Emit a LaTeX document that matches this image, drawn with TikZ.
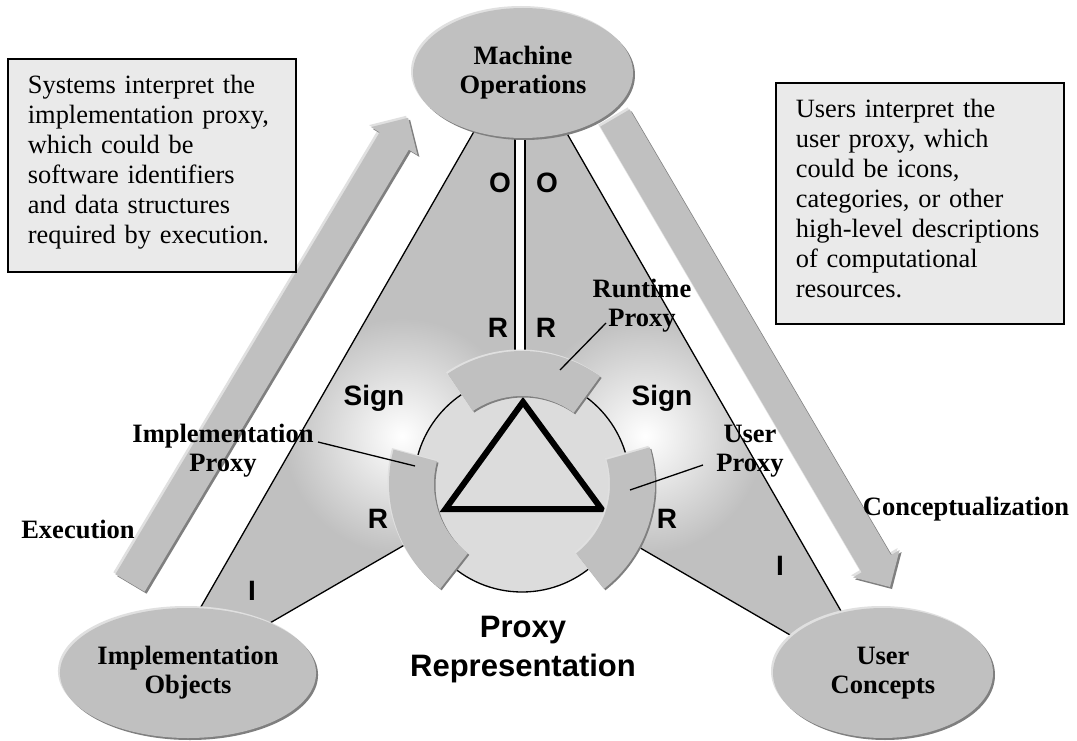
\documentclass[tikz,border=0pt]{standalone}
\usepackage{fontspec}
\setmainfont{Liberation Serif}
\newfontfamily\arialfont{Liberation Sans}
\usetikzlibrary{shapes.geometric,shadows}

\definecolor{facegrey}{HTML}{C0C0C0}
\definecolor{rimdark}{HTML}{7F7F7F}
\definecolor{rimlight}{HTML}{E0E0E0}
\definecolor{discgrey}{HTML}{DCDCDC}
\definecolor{notegrey}{HTML}{EAEAEA}

\tikzset{
  bevel/.style={
    general shadow={fill=rimlight, shadow xshift=-2pt, shadow yshift=2pt},
    general shadow={fill=rimdark, shadow xshift=2pt, shadow yshift=-2pt},
    fill=facegrey},
  thinbevel/.style={
    general shadow={fill=rimlight, shadow xshift=-1.5pt, shadow yshift=1.5pt},
    general shadow={fill=rimdark, shadow xshift=1.5pt, shadow yshift=-1.5pt},
    fill=facegrey},
  halo/.style={inner color=white, outer color=facegrey},
  blob/.style={ellipse, bevel, minimum width=220pt, minimum height=130pt,
    inner sep=0pt, align=center,
    font=\fontsize{26.5}{29}\selectfont\bfseries},
  edgeline/.style={line width=1.3pt, black},
  pointer/.style={line width=1.3pt, black},
  lbl/.style={inner sep=0pt, align=center,
    font=\fontsize{26.5}{29}\selectfont\bfseries},
  sym/.style={inner sep=0pt, anchor=base,
    font=\arialfont\bfseries\fontsize{28}{30}\selectfont},
  note/.style={draw, line width=1.8pt, fill=notegrey, anchor=north west,
    text width=248pt, inner xsep=20pt, inner ysep=16pt, align=left,
    font=\fontsize{26.4}{30}\selectfont},
}

\begin{document}
\begin{tikzpicture}[x=1pt,y=-1pt]
\useasboundingbox (0,0) rectangle (1077,741);
\fill[white] (0,0) rectangle (1077,741);

% block arrows: execution (up) and conceptualization (down)
\path[bevel] (115.4,574.3) -- (144.6,591.7) -- (408.8,149.7) -- (417.4,154.9)
  -- (408.1,117.8) -- (371.0,127.1) -- (379.6,132.3) -- cycle;
\path[bevel] (600.3,126.6) -- (629.7,109.4) -- (891.0,555.1) -- (899.6,550.0)
  -- (890,587) -- (853.0,577.4) -- (861.6,572.3) -- cycle;

% the two grey wings of the triangle
\fill[facegrey] (476,128) -- (198,612) -- (263,627) -- (420,536) -- (522,484)
  -- (515,352) -- (515,128) -- cycle;
\fill[facegrey] (565,130) -- (845,618) -- (797,639) -- (630,542) -- (522,484)
  -- (525,352) -- (525,128) -- cycle;

% soft white glow behind the "Sign" labels
\begin{scope}
  \clip (476,128) -- (198,612) -- (263,627) -- (420,536) -- (522,484)
    -- (515,352) -- (515,128) -- cycle;
  \shade[halo] (402,436) circle[radius=118pt];
\end{scope}
\begin{scope}
  \clip (565,130) -- (845,618) -- (797,639) -- (630,542) -- (522,484)
    -- (525,352) -- (525,128) -- cycle;
  \shade[halo] (645,436) circle[radius=118pt];
\end{scope}

% wing outlines
\coordinate (mL) at (476,128);  \coordinate (iL) at (198,612);
\coordinate (mR) at (565,130);  \coordinate (uR) at (845,618);
\coordinate (iIn) at (263,627); \coordinate (dL) at (420,536);
\coordinate (uIn) at (797,639); \coordinate (dR) at (630,542);
\coordinate (vLt) at (515,128); \coordinate (vLb) at (515,353);
\coordinate (vRt) at (525,128); \coordinate (vRb) at (525,353);
\draw[edgeline] (mL) -- (iL);
\draw[edgeline] (mR) -- (uR);
\draw[edgeline] (iIn) -- (dL);
\draw[edgeline] (uIn) -- (dR);
\draw[edgeline] (vLt) -- (vLb);
\draw[edgeline] (vRt) -- (vRb);

% central disc with the sign triangle
\node[circle, draw, line width=1.3pt, fill=discgrey, minimum size=216pt,
  inner sep=0pt] (disc) at (522,484) {};
\draw[line width=6pt, line join=miter] (523,402) -- (445.5,509) -- (601.5,509) -- cycle;

% proxy bands around the disc
\path[thinbevel] ([shift={(54:133pt)}]disc.center) arc[start angle=54, end angle=124, radius=133pt]
  -- ([shift={(124:88pt)}]disc.center) arc[start angle=124, end angle=54, radius=88pt] -- cycle;
\path[thinbevel] ([shift={(165:133pt)}]disc.center) arc[start angle=165, end angle=232, radius=133pt]
  -- ([shift={(232:88pt)}]disc.center) arc[start angle=232, end angle=165, radius=88pt] -- cycle;
\path[thinbevel] ([shift={(-52:133pt)}]disc.center) arc[start angle=-52, end angle=16, radius=133pt]
  -- ([shift={(16:88pt)}]disc.center) arc[start angle=16, end angle=-52, radius=88pt] -- cycle;

% the three vertices
\node[blob] (mach) at (523,73) {Machine\\Operations};
\node[blob] (impl) at (188,673) {Implementation\\Objects};
\node[blob] (user) at (883,673) {User\\Concepts};

% proxy labels and their pointers
\node[lbl] (rtl) at (642,306) {Runtime\\Proxy};
\node[lbl] (ipl) at (223,451) {Implementation\\Proxy};
\node[lbl] (upl) at (750,451) {User\\Proxy};
\coordinate (rtA) at (606,323); \coordinate (rtB) at (560,370);
\coordinate (ipA) at (318,442); \coordinate (ipB) at (415,466);
\coordinate (upA) at (703,465); \coordinate (upB) at (630,490);
\draw[pointer] (rtA) -- (rtB);
\draw[pointer] (ipA) -- (ipB);
\draw[pointer] (upA) -- (upB);

% process labels
\node[lbl, anchor=base] (exec) at (78,538) {Execution};
\node[lbl, anchor=base] (concept) at (966,515) {Conceptualization};

% relation letters
\node[sym] (signL) at (374,405) {Sign};
\node[sym] (signR) at (662,405) {Sign};
\node[sym] (oL) at (500,193) {O};
\node[sym] (oR) at (547,193) {O};
\node[sym] (rTL) at (498,337) {R};
\node[sym] (rTR) at (546,337) {R};
\node[sym] (rL) at (378,528) {R};
\node[sym] (rR) at (667,528) {R};
\node[sym] (iL) at (252,600) {I};
\node[sym] (iR) at (780,575) {I};

\node[inner sep=0pt, align=center, font=\arialfont\bfseries\fontsize{31}{39}\selectfont]
  (prep) at (523,650) {Proxy\\Representation};

% explanatory notes
\node[note, text depth=163pt] (sysnote) at (7,58) {Systems interpret the\\implementation proxy,\\which could be\\software identifiers\\and data structures\\required by execution.};
\node[note, text depth=191pt] (usernote) at (775,82) {Users interpret the\\user proxy, which\\could be icons,\\categories, or other\\high-level descriptions\\of computational\\resources.};
\end{tikzpicture}
\end{document}
